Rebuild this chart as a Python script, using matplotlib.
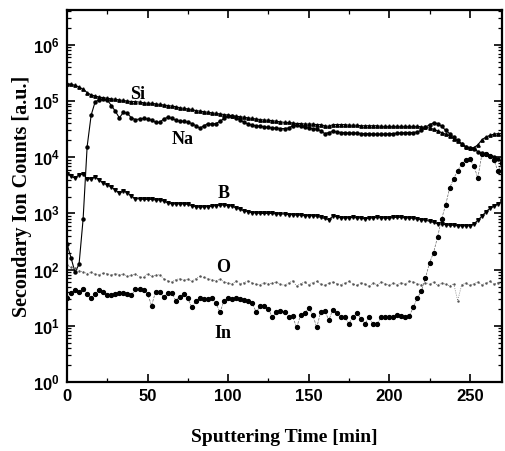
import numpy as np
import matplotlib
matplotlib.use("Agg")
import matplotlib.pyplot as plt
from matplotlib.ticker import FixedLocator, FuncFormatter, LogLocator, NullFormatter, MultipleLocator

plt.rcParams['mathtext.fontset'] = 'custom'
plt.rcParams['mathtext.bf'] = 'Liberation Sans:bold'
plt.rcParams['mathtext.rm'] = 'Liberation Sans:bold'

# sputtering time grid [min]
time_min = np.arange(0, 272.5, 2.5)

# log10 of secondary ion counts
si_log10 = [5.31, 5.30, 5.28, 5.25, 5.21, 5.15, 5.11, 5.09, 5.07, 5.06,
            5.05, 5.04, 5.03, 5.02, 5.01, 5.00, 4.99, 4.99, 4.98, 4.97,
            4.96, 4.96, 4.95, 4.94, 4.93, 4.92, 4.91, 4.90, 4.88, 4.87,
            4.86, 4.85, 4.83, 4.82, 4.81, 4.80, 4.79, 4.78, 4.77, 4.76,
            4.75, 4.74, 4.73, 4.72, 4.71, 4.70, 4.69, 4.68, 4.67, 4.66,
            4.66, 4.65, 4.64, 4.63, 4.62, 4.62, 4.61, 4.60, 4.60, 4.59,
            4.59, 4.59, 4.58, 4.58, 4.56, 4.55, 4.58, 4.58, 4.58, 4.58,
            4.57, 4.57, 4.57, 4.56, 4.56, 4.56, 4.56, 4.56, 4.55, 4.55,
            4.55, 4.55, 4.55, 4.55, 4.55, 4.55, 4.55, 4.55, 4.54, 4.53,
            4.52, 4.50, 4.47, 4.44, 4.41, 4.38, 4.33, 4.28, 4.24, 4.19,
            4.17, 4.17, 4.22, 4.31, 4.36, 4.39, 4.41, 4.42, 4.42]

na_log10 = [2.46, 2.21, 1.95, 2.10, 2.90, 4.19, 4.75, 4.99, 5.02, 5.03,
            5.02, 4.92, 4.82, 4.70, 4.80, 4.78, 4.70, 4.67, 4.68, 4.69,
            4.68, 4.66, 4.62, 4.62, 4.68, 4.71, 4.69, 4.66, 4.64, 4.64,
            4.62, 4.60, 4.56, 4.52, 4.56, 4.60, 4.59, 4.60, 4.64, 4.69,
            4.73, 4.74, 4.70, 4.66, 4.62, 4.59, 4.57, 4.56, 4.55, 4.54,
            4.53, 4.52, 4.52, 4.51, 4.51, 4.52, 4.56, 4.57, 4.55, 4.53,
            4.52, 4.51, 4.50, 4.47, 4.42, 4.44, 4.46, 4.45, 4.44, 4.44,
            4.43, 4.43, 4.43, 4.42, 4.42, 4.42, 4.41, 4.41, 4.41, 4.41,
            4.42, 4.42, 4.43, 4.43, 4.44, 4.44, 4.44, 4.45, 4.48, 4.53,
            4.58, 4.61, 4.60, 4.55, 4.48, 4.42, 4.36, 4.30, 4.24, 4.18,
            4.16, 4.15, 4.10, 4.07, 4.05, 4.03, 4.00, 3.96, 3.93]

b_log10 = [3.71, 3.66, 3.63, 3.69, 3.70, 3.61, 3.62, 3.65, 3.60, 3.54,
           3.51, 3.47, 3.42, 3.36, 3.40, 3.37, 3.31, 3.26, 3.26, 3.25,
           3.25, 3.25, 3.24, 3.24, 3.22, 3.19, 3.17, 3.17, 3.17, 3.17,
           3.16, 3.14, 3.12, 3.11, 3.12, 3.12, 3.13, 3.14, 3.15, 3.15,
           3.14, 3.13, 3.10, 3.07, 3.05, 3.03, 3.01, 3.01, 3.00, 3.00,
           3.00, 3.00, 2.99, 2.99, 2.99, 2.98, 2.98, 2.97, 2.97, 2.96,
           2.96, 2.96, 2.95, 2.93, 2.91, 2.89, 2.95, 2.94, 2.92, 2.92,
           2.92, 2.93, 2.92, 2.92, 2.90, 2.92, 2.92, 2.93, 2.92, 2.92,
           2.91, 2.93, 2.93, 2.93, 2.92, 2.92, 2.91, 2.90, 2.89, 2.88,
           2.86, 2.84, 2.82, 2.81, 2.80, 2.79, 2.79, 2.78, 2.78, 2.78,
           2.78, 2.81, 2.88, 2.95, 3.03, 3.09, 3.13, 3.17, 3.22]

o_log10 = [2.08, 2.04, 2.02, 1.98, 1.96, 1.93, 1.95, 1.92, 1.91, 1.94,
           1.93, 1.90, 1.93, 1.91, 1.92, 1.88, 1.90, 1.92, 1.87, 1.86,
           1.93, 1.88, 1.90, 1.91, 1.84, 1.80, 1.78, 1.82, 1.84, 1.81,
           1.83, 1.79, 1.84, 1.88, 1.86, 1.84, 1.82, 1.80, 1.83, 1.78,
           1.76, 1.74, 1.80, 1.75, 1.77, 1.80, 1.76, 1.74, 1.73, 1.77,
           1.75, 1.76, 1.78, 1.74, 1.72, 1.76, 1.80, 1.71, 1.75, 1.78,
           1.73, 1.77, 1.79, 1.74, 1.72, 1.76, 1.78, 1.75, 1.73, 1.76,
           1.79, 1.74, 1.72, 1.77, 1.74, 1.70, 1.76, 1.73, 1.78, 1.75,
           1.72, 1.76, 1.73, 1.77, 1.74, 1.79, 1.78, 1.75, 1.73, 1.77,
           1.74, 1.78, 1.72, 1.76, 1.74, 1.71, 1.75, 1.45, 1.73, 1.76,
           1.72, 1.75, 1.78, 1.73, 1.76, 1.79, 1.74, 1.77, 1.76]

in_log10 = [1.50, 1.58, 1.63, 1.60, 1.66, 1.56, 1.49, 1.57, 1.64, 1.60,
            1.54, 1.55, 1.57, 1.58, 1.59, 1.57, 1.54, 1.66, 1.65, 1.64,
            1.57, 1.36, 1.61, 1.60, 1.51, 1.58, 1.59, 1.45, 1.52, 1.57,
            1.49, 1.33, 1.44, 1.49, 1.48, 1.47, 1.49, 1.40, 1.24, 1.45,
            1.50, 1.48, 1.49, 1.47, 1.46, 1.45, 1.40, 1.24, 1.36, 1.36,
            1.30, 1.15, 1.24, 1.27, 1.25, 1.15, 1.17, 0.97, 1.19, 1.22,
            1.31, 1.20, 0.97, 1.25, 1.27, 1.10, 1.29, 1.22, 1.15, 1.15,
            1.04, 1.16, 1.22, 1.13, 1.04, 1.15, 1.03, 1.04, 1.15, 1.15,
            1.15, 1.15, 1.19, 1.17, 1.15, 1.18, 1.33, 1.50, 1.62, 1.85,
            2.12, 2.30, 2.58, 2.90, 3.15, 3.45, 3.62, 3.76, 3.88, 3.95,
            3.96, 3.85, 3.63, 4.05, 4.05, 4.03, 3.95, 3.75, 3.90]

for arr in (si_log10, na_log10, b_log10, o_log10, in_log10):
    assert len(arr) == len(time_min), len(arr)

species = ["Si", "Na", "B", "O", "In"]
label_time = [44, 72, 97, 97, 97]
label_log10 = [5.12, 4.32, 3.36, 2.04, 0.87]

fig = plt.figure(figsize=(5.05, 4.51), dpi=100)
ax = fig.add_axes([67/505, 1-382/451, 435/505, 372/451])

t = time_min
ax.plot(t, 10**np.array(si_log10), '-', color='black', lw=0.8,
        marker='^', ms=2.4, mfc='black', mec='black')
ax.plot(t, 10**np.array(na_log10), '-', color='black', lw=0.8,
        marker='o', ms=2.2, mfc='black', mec='black')
ax.plot(t, 10**np.array(b_log10), '-', color='black', lw=0.8,
        marker='v', ms=2.6, mfc='black', mec='black')
ax.plot(t, 10**np.array(o_log10), ':', color='#777777', lw=0.6,
        marker='.', ms=1.5, mfc='#555555', mec='#555555')
ax.plot(t, 10**np.array(in_log10), '--', color='#666666', lw=0.5,
        marker='o', ms=2.8, mfc='black', mec='black')

for name, lt, ll in zip(species, label_time, label_log10):
    ax.text(lt, 10**ll, name, family='Liberation Serif', weight='bold',
            fontsize=13, ha='center', va='center')

ax.set_yscale('log')
ax.set_xlim(0, 270)
ax.set_ylim(1, 10**6.62)

ax.yaxis.set_major_locator(FixedLocator([10**k for k in range(0, 7)]))
ax.yaxis.set_major_formatter(FuncFormatter(lambda v, p: r'$\mathbf{10^{%d}}$' % round(np.log10(v))))
ax.yaxis.set_minor_locator(LogLocator(base=10, subs=np.arange(2, 10), numticks=20))
ax.yaxis.set_minor_formatter(NullFormatter())
ax.xaxis.set_major_locator(MultipleLocator(50))
ax.xaxis.set_minor_locator(MultipleLocator(25))

ax.tick_params(which='both', direction='in', top=True, right=True)
ax.tick_params(which='major', length=6, width=1.2, labelsize=12, pad=5)
ax.tick_params(which='minor', length=3, width=0.9)
for lab in ax.get_xticklabels() + ax.get_yticklabels():
    lab.set_family('Liberation Sans')
    lab.set_weight('bold')
for s in ax.spines.values():
    s.set_linewidth(1.6)

ax.set_xlabel('Sputtering Time [min]', family='Liberation Serif', weight='bold',
              fontsize=14, labelpad=18)
ax.set_ylabel('Secondary Ion Counts [a.u.]', family='Liberation Serif', weight='bold',
              fontsize=14.5, labelpad=1)

fig.savefig('out.png', dpi=100)
